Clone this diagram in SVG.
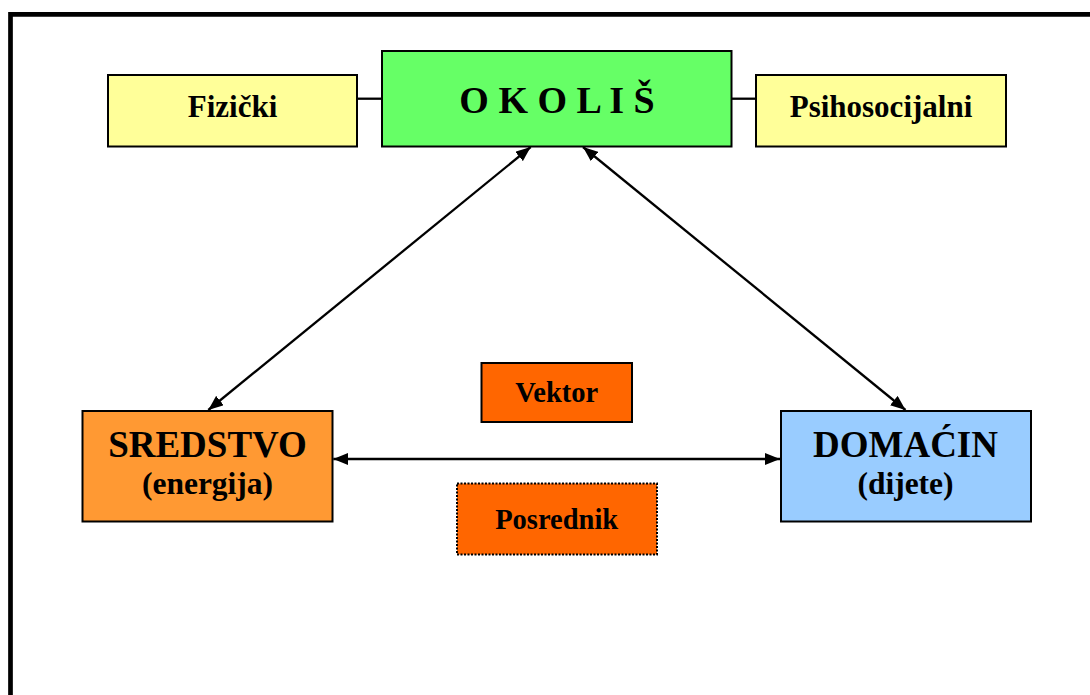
<svg xmlns="http://www.w3.org/2000/svg" width="1090" height="695" viewBox="0 0 1090 695">
<defs>
<style>
.box{stroke:#000;stroke-width:2}
.t{font-family:"Liberation Serif","Times New Roman",serif;font-weight:bold;fill:#000;text-anchor:middle}
.ln{stroke:#000;stroke-width:2.3;fill:none}
</style>
<marker id="ah" viewBox="0 0 15 12" refX="15" refY="6" markerWidth="15" markerHeight="12" markerUnits="userSpaceOnUse" orient="auto-start-reverse">
<path d="M0,0 L15,6 L0,12 z" fill="#000"/>
</marker>
</defs>
<rect width="1090" height="695" fill="#fff"/>
<path d="M10.5,700 V14.3 H1100" fill="none" stroke="#000" stroke-width="4.7"/>
<g id="connectors">
<line class="ln" x1="357" y1="98.7" x2="382" y2="98.7"/>
<line class="ln" x1="731" y1="98.7" x2="756" y2="98.7"/>
<line class="ln" x1="530.7" y1="147" x2="208.3" y2="410" marker-start="url(#ah)" marker-end="url(#ah)"/>
<line class="ln" x1="583" y1="147" x2="905.5" y2="410" marker-start="url(#ah)" marker-end="url(#ah)"/>
<line class="ln" x1="333.3" y1="459" x2="780" y2="459" marker-start="url(#ah)" marker-end="url(#ah)"/>
</g>
<g id="fizicki">
<rect class="box" x="108" y="75" width="249" height="71.5" fill="#FFFF99"/>
<text class="t" x="232.5" y="116.7" font-size="31">Fizički</text>
</g>
<g id="okolis">
<rect class="box" x="382" y="51" width="349.5" height="95.5" fill="#66FF66"/>
<text class="t" x="557" y="113.3" font-size="38">O K O L I Š</text>
</g>
<g id="psihosocijalni">
<rect class="box" x="756" y="75" width="250" height="71.5" fill="#FFFF99"/>
<text class="t" x="881" y="116.7" font-size="31">Psihosocijalni</text>
</g>
<g id="sredstvo">
<rect class="box" x="82.5" y="411" width="250" height="110.5" fill="#FF9933"/>
<text class="t" x="207.5" y="456.7" font-size="37">SREDSTVO</text>
<text class="t" x="207.5" y="493.5" font-size="31.5">(energija)</text>
</g>
<g id="domacin">
<rect class="box" x="781" y="411" width="250" height="110.5" fill="#99CCFF"/>
<text class="t" x="905.5" y="456.7" font-size="37">DOMAĆIN</text>
<text class="t" x="905.5" y="494.3" font-size="31.5">(dijete)</text>
</g>
<g id="vektor">
<rect class="box" x="481.5" y="363" width="150.5" height="59" fill="#FF6600"/>
<text class="t" x="556.7" y="401.7" font-size="28.5">Vektor</text>
</g>
<g id="posrednik">
<rect class="box" x="457" y="483.5" width="200" height="71" fill="#FF6600" stroke-dasharray="2,1.5"/>
<text class="t" x="556.7" y="529" font-size="28.5">Posrednik</text>
</g>
</svg>
